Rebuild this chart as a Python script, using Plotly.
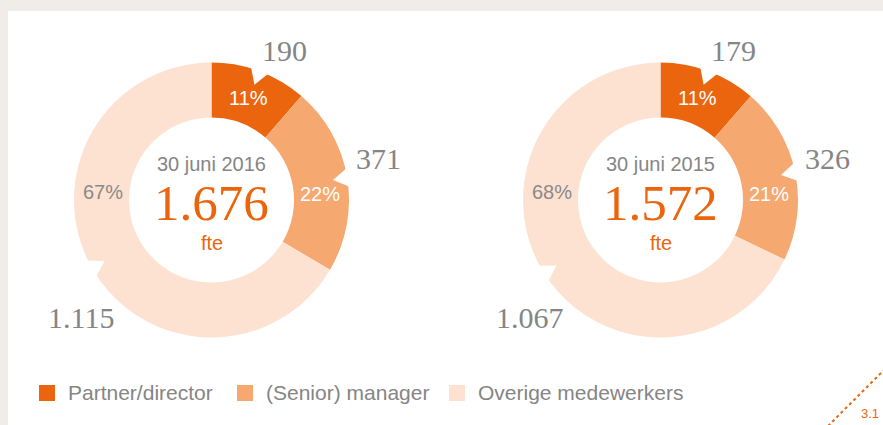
import math
import plotly.graph_objects as go

# ---------------- data ----------------
categories = ["Partner/director", "(Senior) manager", "Overige medewerkers"]
values_2016 = [190, 371, 1115]
values_2015 = [179, 326, 1067]
panel_titles = ["30 juni 2016", "30 juni 2015"]
unit_label = "fte"
page_ref = "3.1"

# ---------------- style / layout ----------------
W, H = 883, 425
COLORS = ["#EA650D", "#F5A870", "#FDE2D2"]
PCT_COLORS = ["#FFFFFF", "#FFFFFF", "#8A8A8A"]
GRAY = "#858585"
ORANGE = "#EA650D"
BG = "#F0ECE8"
SANS = "Liberation Sans, Arial, sans-serif"
SERIF = "Liberation Serif, Georgia, serif"

CENTERS = [(211.5, 200.0), (660.5, 200.0)]   # pixel centres of the donuts
R = 137.5                                    # outer radius in px
HOLE = 0.6
VALUE_ANGLES = [26, 76, 228]                 # label directions (deg, clockwise from top)
VALUE_RADII = [1.21, 1.25, 1.28]
PCT_ANGLES = [20, 87, 274]
PCT_RADIUS = 0.79
LEGEND_X = [39, 237, 449]
LEGEND_Y = 393


def px_x(x):
    return x / W


def px_y(y):
    return 1 - y / H


def polar(cx, cy, ang, r):
    a = math.radians(ang)
    return cx + r * math.sin(a), cy - r * math.cos(a)


def nl(n):
    return f"{n:,}".replace(",", ".")


fig = go.Figure()
annotations = []
shapes = []

# white panel over beige page background
shapes.append(dict(type="rect", xref="paper", yref="paper",
                   x0=px_x(8), x1=1.0, y0=0.0, y1=px_y(11),
                   fillcolor="white", line=dict(width=0), layer="below"))

for (cx, cy), vals, title in zip(CENTERS, [values_2016, values_2015], panel_titles):
    fig.add_trace(go.Pie(
        labels=categories, values=vals, hole=HOLE, sort=False,
        direction="clockwise", rotation=0,
        marker=dict(colors=COLORS, line=dict(width=0)),
        textinfo="none", hoverinfo="label+value", showlegend=False,
        domain=dict(x=[px_x(cx - R), px_x(cx + R)],
                    y=[px_y(cy + R), px_y(cy - R)]),
    ))
    total = sum(vals)
    cum = 0
    for i, v in enumerate(vals):
        mid = (cum + v / 2) / total * 360
        cum += v
        # notch (small white wedge at the slice's outer edge)
        tx, ty = polar(cx, cy, mid, R * 0.895)
        ax_, ay_ = polar(cx, cy, mid - 4, R + 2)
        bx_, by_ = polar(cx, cy, mid + 4, R + 2)
        path = (f"M {px_x(ax_):.5f},{px_y(ay_):.5f} L {px_x(tx):.5f},{px_y(ty):.5f} "
                f"L {px_x(bx_):.5f},{px_y(by_):.5f} Z")
        shapes.append(dict(type="path", xref="paper", yref="paper", path=path,
                           fillcolor="white", line=dict(width=0), layer="above"))
        # outer value label
        lx, ly = polar(cx, cy, VALUE_ANGLES[i], R * VALUE_RADII[i])
        annotations.append(dict(x=px_x(lx), y=px_y(ly), xref="paper", yref="paper",
                                text=nl(v), showarrow=False, xanchor="center", yanchor="middle",
                                font=dict(family=SERIF, size=30, color=GRAY)))
        # percentage label
        px_, py_ = polar(cx, cy, PCT_ANGLES[i], R * PCT_RADIUS)
        annotations.append(dict(x=px_x(px_), y=px_y(py_), xref="paper", yref="paper",
                                text=f"{round(v / total * 100)}%", showarrow=False,
                                xanchor="center", yanchor="middle",
                                font=dict(family=SANS, size=20, color=PCT_COLORS[i])))
    # centre texts
    annotations.append(dict(x=px_x(cx), y=px_y(cy - 36), xref="paper", yref="paper",
                            text=title, showarrow=False, xanchor="center", yanchor="middle",
                            font=dict(family=SANS, size=20, color=GRAY)))
    annotations.append(dict(x=px_x(cx), y=px_y(cy + 3), xref="paper", yref="paper",
                            text=nl(total), showarrow=False, xanchor="center", yanchor="middle",
                            font=dict(family=SERIF, size=51, color=ORANGE)))
    annotations.append(dict(x=px_x(cx), y=px_y(cy + 43), xref="paper", yref="paper",
                            text=unit_label, showarrow=False, xanchor="center", yanchor="middle",
                            font=dict(family=SANS, size=20, color=ORANGE)))

# manual legend
for x0, cat, col in zip(LEGEND_X, categories, COLORS):
    shapes.append(dict(type="rect", xref="paper", yref="paper",
                       x0=px_x(x0), x1=px_x(x0 + 16), y0=px_y(LEGEND_Y + 8), y1=px_y(LEGEND_Y - 8),
                       fillcolor=col, line=dict(width=0)))
    annotations.append(dict(x=px_x(x0 + 27), y=px_y(LEGEND_Y - 1), xref="paper", yref="paper",
                            text=cat, showarrow=False, xanchor="left", yanchor="middle",
                            font=dict(family=SANS, size=21, color=GRAY)))

# dotted corner marker + page reference
shapes.append(dict(type="line", xref="paper", yref="paper",
                   x0=px_x(828), y0=px_y(426), x1=px_x(884), y1=px_y(370),
                   line=dict(color=ORANGE, width=2, dash="dot")))
annotations.append(dict(x=px_x(870), y=px_y(413), xref="paper", yref="paper",
                        text=page_ref, showarrow=False, xanchor="center", yanchor="middle",
                        font=dict(family=SANS, size=13, color=ORANGE)))

fig.update_layout(
    width=W, height=H,
    margin=dict(l=0, r=0, t=0, b=0),
    paper_bgcolor=BG, plot_bgcolor=BG,
    shapes=shapes, annotations=annotations,
    showlegend=False,
)

fig.write_html("out.html", config={"displayModeBar": False},
               post_script="document.body.style.margin='0';document.body.style.overflow='hidden';")
